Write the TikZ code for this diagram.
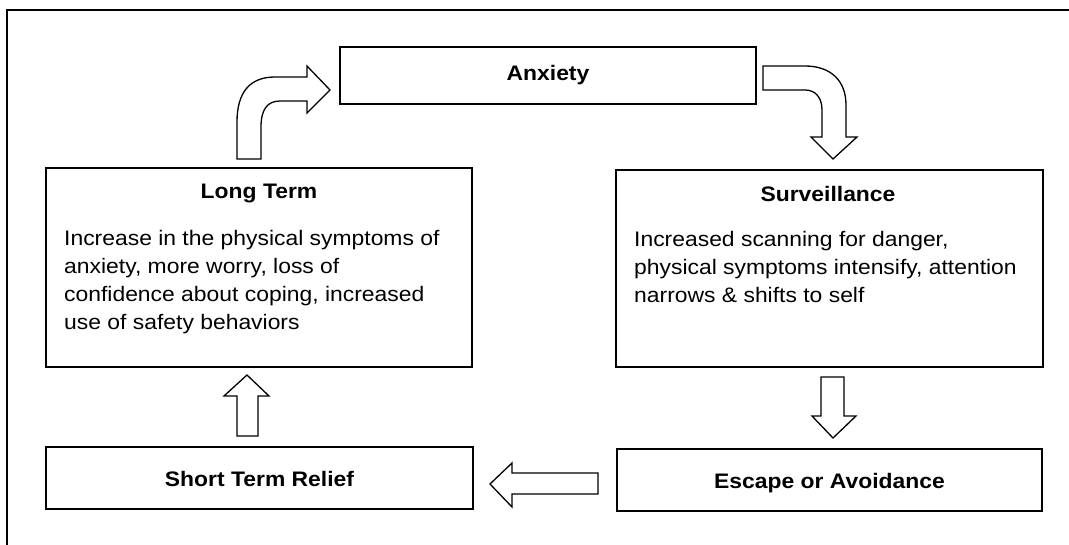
\documentclass[tikz,border=0pt]{standalone}
\usepackage{fontspec}
\setmainfont{Liberation Sans}[FakeStretch=1.09]
\begin{document}
\begin{tikzpicture}[x=1pt,y=-1pt,
  box/.style={draw,line width=1.3pt,rectangle,inner sep=0pt},
  blockarrow/.style={draw,line width=1.3pt,line join=miter,fill=white},
  title/.style={font=\fontsize{21}{28}\selectfont\bfseries,anchor=base,inner sep=0pt},
  body/.style={font=\fontsize{21}{28}\selectfont,anchor=north west,align=left,inner sep=0pt}]
\useasboundingbox (0,0) rectangle (1069,544);
% frame
\draw[line width=2.2pt] (1075,10) -- (7,10);
\draw[line width=1.4pt] (7,9) -- (7,550);
% boxes
\node[box,minimum width=416pt,minimum height=57pt] (anx) at (548,75.5) {};
\node[box,minimum width=426pt,minimum height=199pt] (lt) at (259,267.5) {};
\node[box,minimum width=427pt,minimum height=197pt] (sv) at (829.5,268.5) {};
\node[box,minimum width=427pt,minimum height=62pt] (st) at (259.5,478) {};
\node[box,minimum width=425pt,minimum height=62pt] (esc) at (829.5,480) {};
% texts
\node[title] (anxt) at (548,80) {Anxiety};
\node[title] (ltt) at (259,198) {Long Term};
\node[body] (ltb) at (64,230.5) {Increase in the physical symptoms of\\anxiety, more worry, loss of\\confidence about coping, increased\\use of safety behaviors};
\node[title] (svt) at (828,201) {Surveillance};
\node[body] (svb) at (634,231.5) {Increased scanning for danger,\\physical symptoms intensify, attention\\narrows \& shifts to self};
\node[title] (stt) at (259.5,486) {Short Term Relief};
\node[title] (esct) at (829.5,488) {Escape or Avoidance};
% curved arrow long term -> anxiety
\draw[blockarrow] (237,159) -- (237,122) .. controls (237,92) and (250,77) .. (275,77) -- (307,77) -- (307,66) -- (330,90) -- (307,113) -- (307,101) -- (280,101) .. controls (267,101) and (261,110) .. (261,127) -- (261,159) -- cycle;
% curved arrow anxiety -> surveillance
\draw[blockarrow] (763,66) -- (805,66) .. controls (830,66) and (846,80) .. (846,105) -- (846,137) -- (857,137) -- (833,159) -- (811,137) -- (822,137) -- (822,110) .. controls (822,97) and (815,90) .. (805,90) -- (763,90) -- cycle;
% down arrow surveillance -> escape
\draw[blockarrow] (821,377) -- (844,377) -- (844,416) -- (856,416) -- (833,438) -- (812,416) -- (821,416) -- cycle;
% left arrow escape -> short term
\draw[blockarrow] (598,473) -- (598,494) -- (512,494) -- (512,507) -- (490,484) -- (512,463) -- (512,473) -- cycle;
% up arrow short term -> long term
\draw[blockarrow] (237,436) -- (258,436) -- (258,396) -- (269,396) -- (247,375) -- (224,396) -- (237,396) -- cycle;
\end{tikzpicture}
\end{document}
